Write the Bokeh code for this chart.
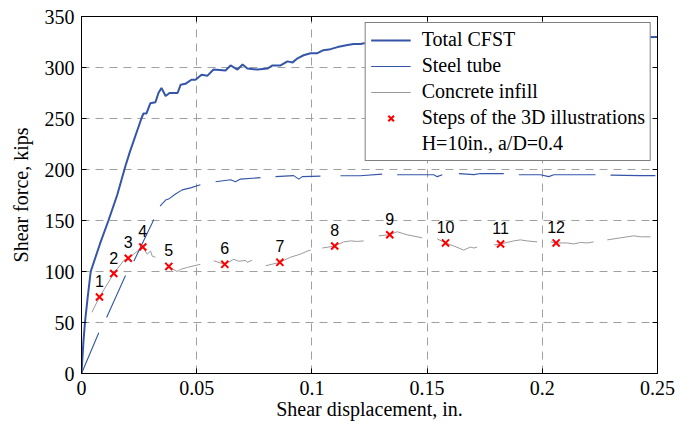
import numpy as np
from bokeh.plotting import figure
from bokeh.models import (Range1d, LinearAxis, FixedTicker, CustomJSTickFormatter,
                          Legend, LegendItem, ColumnDataSource)
from bokeh.core.properties import value
from bokeh.embed import file_html
from bokeh.resources import INLINE

NaN = float("nan")

# ---------------- data ----------------
total_x = [0, 0.0008, 0.0015, 0.0027, 0.004, 0.008, 0.0117, 0.0155, 0.019, 0.0211,
           0.026, 0.0269, 0.0282, 0.0299, 0.0321, 0.0334, 0.0347, 0.0365, 0.0382,
           0.0417, 0.043, 0.0451, 0.0477, 0.0495, 0.0521, 0.0547, 0.0573, 0.0625,
           0.0647, 0.0677, 0.0699, 0.072, 0.0764, 0.0807, 0.0829, 0.0864, 0.0894,
           0.0916, 0.0938, 0.0964, 0.0994, 0.1024, 0.105, 0.1081, 0.1111, 0.1155,
           0.1181, 0.1211, 0.1233, 0.14, 0.16, 0.18, 0.2, 0.22, 0.25]
total_y = [0, 30, 50, 75, 100, 127, 150, 175, 203, 218,
           250, 255, 255, 265, 266, 275, 280, 272, 275,
           275, 283, 284, 288, 288, 293, 292, 298, 297,
           302, 298, 303, 299, 298, 299, 302, 302, 306,
           305, 309, 312, 314, 314, 317, 318, 320, 322,
           323, 323, 324, 326, 327, 328, 329, 329, 330]

steel_x = [0, 0.0075, NaN,
           0.0109, 0.0191, NaN,
           0.0227, 0.0314, NaN,
           0.0341, 0.0365, 0.0378, 0.0408, 0.0437, 0.0473, 0.0516, NaN,
           0.0582, 0.0647, 0.0668, 0.069, 0.0777, NaN,
           0.0842, 0.0921, 0.0943, 0.0958, 0.1037, NaN,
           0.1124, 0.121, 0.1305, NaN,
           0.137, 0.1529, 0.1544, 0.1566, NaN,
           0.1638, 0.1703, 0.1732, 0.1833, NaN,
           0.1898, 0.1992, 0.2028, 0.205, 0.2231, NaN,
           0.2296, 0.2426, 0.2491]
steel_y = [0, 40, NaN,
           55, 96, NaN,
           110, 151, NaN,
           164, 170, 171, 176, 180, 182, 185, NaN,
           188, 190, 188, 190.6, 192, NaN,
           193, 194, 190.6, 193, 193.5, NaN,
           193.8, 193.8, 195.5, NaN,
           194.8, 194.8, 193, 194.8, NaN,
           196, 195, 196, 196, NaN,
           194.8, 194.8, 193, 194.8, 194.8, NaN,
           194.5, 194, 194]

concrete_x = [0.0045, 0.0078, 0.014, 0.0184, 0.0203, 0.0266, 0.0285, 0.03, 0.0307, 0.0321, NaN,
              0.0365, 0.0379, 0.0415, 0.043, 0.0459, 0.0488, 0.0516, NaN,
              0.0574, 0.0622, 0.0661, 0.0683, 0.0712, 0.0719, 0.0741, NaN,
              0.0799, 0.0861, 0.0907, 0.095, 0.098, 0.0995, NaN,
              0.1045, 0.1099, 0.1138, 0.1168, 0.1197, 0.1225, NaN,
              0.129, 0.1338, 0.137, 0.1392, 0.1413, 0.1479, NaN,
              0.1544, 0.158, 0.1616, 0.1659, 0.1688, 0.1703, 0.1717, NaN,
              0.179, 0.1819, 0.1876, 0.1905, 0.1934, 0.1978, NaN,
              0.2036, 0.206, 0.2108, 0.2137, 0.2166, 0.2195, 0.2223, NaN,
              0.2282, 0.234, 0.2369, 0.2397, 0.2426, 0.247]
concrete_y = [60, 75, 98, 111, 113, 124, 117, 120, 115, 114, NaN,
              109, 104.6, 100, 102, 104, 105.6, 107, NaN,
              110.5, 107, 112, 110, 111, 109, 111, NaN,
              105.6, 109, 114, 117, 120, 121, NaN,
              123, 125, 129, 130, 129.5, 130, NaN,
              135, 136, 139, 137.5, 136, 133, NaN,
              132, 128, 125, 121, 124, 123, 124, NaN,
              126, 127, 130, 131, 130, 129, NaN,
              129, 128, 128, 127, 128.5, 128, 129, NaN,
              131, 133, 134, 135, 134, 134]

step_x = [0.0078, 0.0140, 0.0203, 0.0266, 0.0379, 0.0622, 0.0861, 0.1099,
          0.1338, 0.158, 0.1819, 0.206]
step_y = [75, 98, 113, 124, 105, 107, 109, 125, 136, 128, 127, 128]
step_labels = ["1", "2", "3", "4", "5", "6", "7", "8", "9", "10", "11", "12"]

x_ticks = [0, 0.05, 0.1, 0.15, 0.2, 0.25]
y_ticks = [0, 50, 100, 150, 200, 250, 300, 350]

SERIF = "Liberation Serif"
BLUE = "#3455a8"

# ---------------- figure ----------------
p = figure(width=680, height=428, x_range=Range1d(0, 0.25), y_range=Range1d(0, 350),
           output_backend="svg", toolbar_location=None,
           min_border_left=81, min_border_right=23, min_border_top=16, min_border_bottom=55)
p.outline_line_color = "black"
p.outline_line_width = 1
p.background_fill_color = "white"
p.border_fill_color = "white"

fmt = CustomJSTickFormatter(code="return String(Math.round(tick*1000)/1000);")
empty_fmt = CustomJSTickFormatter(code="return '';")

bx = p.below[0]
ly = p.left[0]
for ax, ticks in ((bx, x_ticks), (ly, y_ticks)):
    ax.ticker = FixedTicker(ticks=ticks)
    ax.formatter = fmt
    ax.major_tick_in = 5
    ax.major_tick_out = 0
    ax.minor_tick_in = 0
    ax.minor_tick_out = 0
    ax.axis_line_color = "black"
    ax.major_tick_line_color = "black"
    ax.major_label_text_font = SERIF
    ax.major_label_text_font_size = "20px"
    ax.major_label_text_color = "black"
    ax.major_label_standoff = 7
    ax.axis_label_text_font = SERIF
    ax.axis_label_text_font_size = "20px"
    ax.axis_label_text_font_style = "normal"
    ax.axis_label_text_color = "black"

bx.axis_label = "Shear displacement, in."
bx.axis_label_standoff = 0
ly.axis_label = "Shear force, kips"
ly.axis_label_standoff = 10

top = LinearAxis(ticker=FixedTicker(ticks=x_ticks), formatter=empty_fmt)
right = LinearAxis(ticker=FixedTicker(ticks=y_ticks), formatter=empty_fmt)
for ax in (top, right):
    ax.major_tick_in = 5
    ax.major_tick_out = 0
    ax.minor_tick_in = 0
    ax.minor_tick_out = 0
    ax.major_label_standoff = 0
    ax.major_label_text_font_size = "1px"
    ax.axis_line_color = "black"
p.add_layout(top, "above")
p.add_layout(right, "right")

for g in (p.xgrid[0], p.ygrid[0]):
    g.grid_line_color = "#a0a0a0"
    g.grid_line_dash = "8 6"
    g.grid_line_width = 1
p.xgrid[0].ticker = FixedTicker(ticks=x_ticks)
p.ygrid[0].ticker = FixedTicker(ticks=y_ticks)

# ---------------- glyphs ----------------
r_conc = p.line(np.array(concrete_x), np.array(concrete_y), line_color="#9a9a9a", line_width=1)
r_steel = p.line(np.array(steel_x), np.array(steel_y), line_color=BLUE, line_width=1.1)
r_total = p.line(np.array(total_x), np.array(total_y), line_color=BLUE, line_width=2)
r_steps = p.scatter(step_x, step_y, marker="x", size=10, line_color="#ff0000", line_width=2)

src = ColumnDataSource(dict(x=step_x, y=step_y, t=step_labels))
p.text(x="x", y="y", text="t", source=src, y_offset=-16, text_align="center",
       text_baseline="middle", text_font=value("Liberation Sans"),
       text_font_size="16px", text_color="black")

r_note = p.line([], [], line_alpha=0)

legend = Legend(items=[
    LegendItem(label="Total CFST", renderers=[r_total]),
    LegendItem(label="Steel tube", renderers=[r_steel]),
    LegendItem(label="Concrete infill", renderers=[r_conc]),
    LegendItem(label="Steps of the 3D illustrations", renderers=[r_steps]),
    LegendItem(label="H=10in., a/D=0.4", renderers=[r_note]),
], location="top_right")
legend.border_line_color = "black"
legend.border_line_width = 1
legend.background_fill_color = "white"
legend.background_fill_alpha = 1
legend.label_text_font = SERIF
legend.label_text_font_size = "20px"
legend.label_text_color = "black"
legend.glyph_width = 40
legend.glyph_height = 20
legend.label_height = 20
legend.label_standoff = 11
legend.spacing = 3
legend.padding = 5
legend.margin = 6
p.add_layout(legend)

open("out.html", "w").write(file_html(p, INLINE))
